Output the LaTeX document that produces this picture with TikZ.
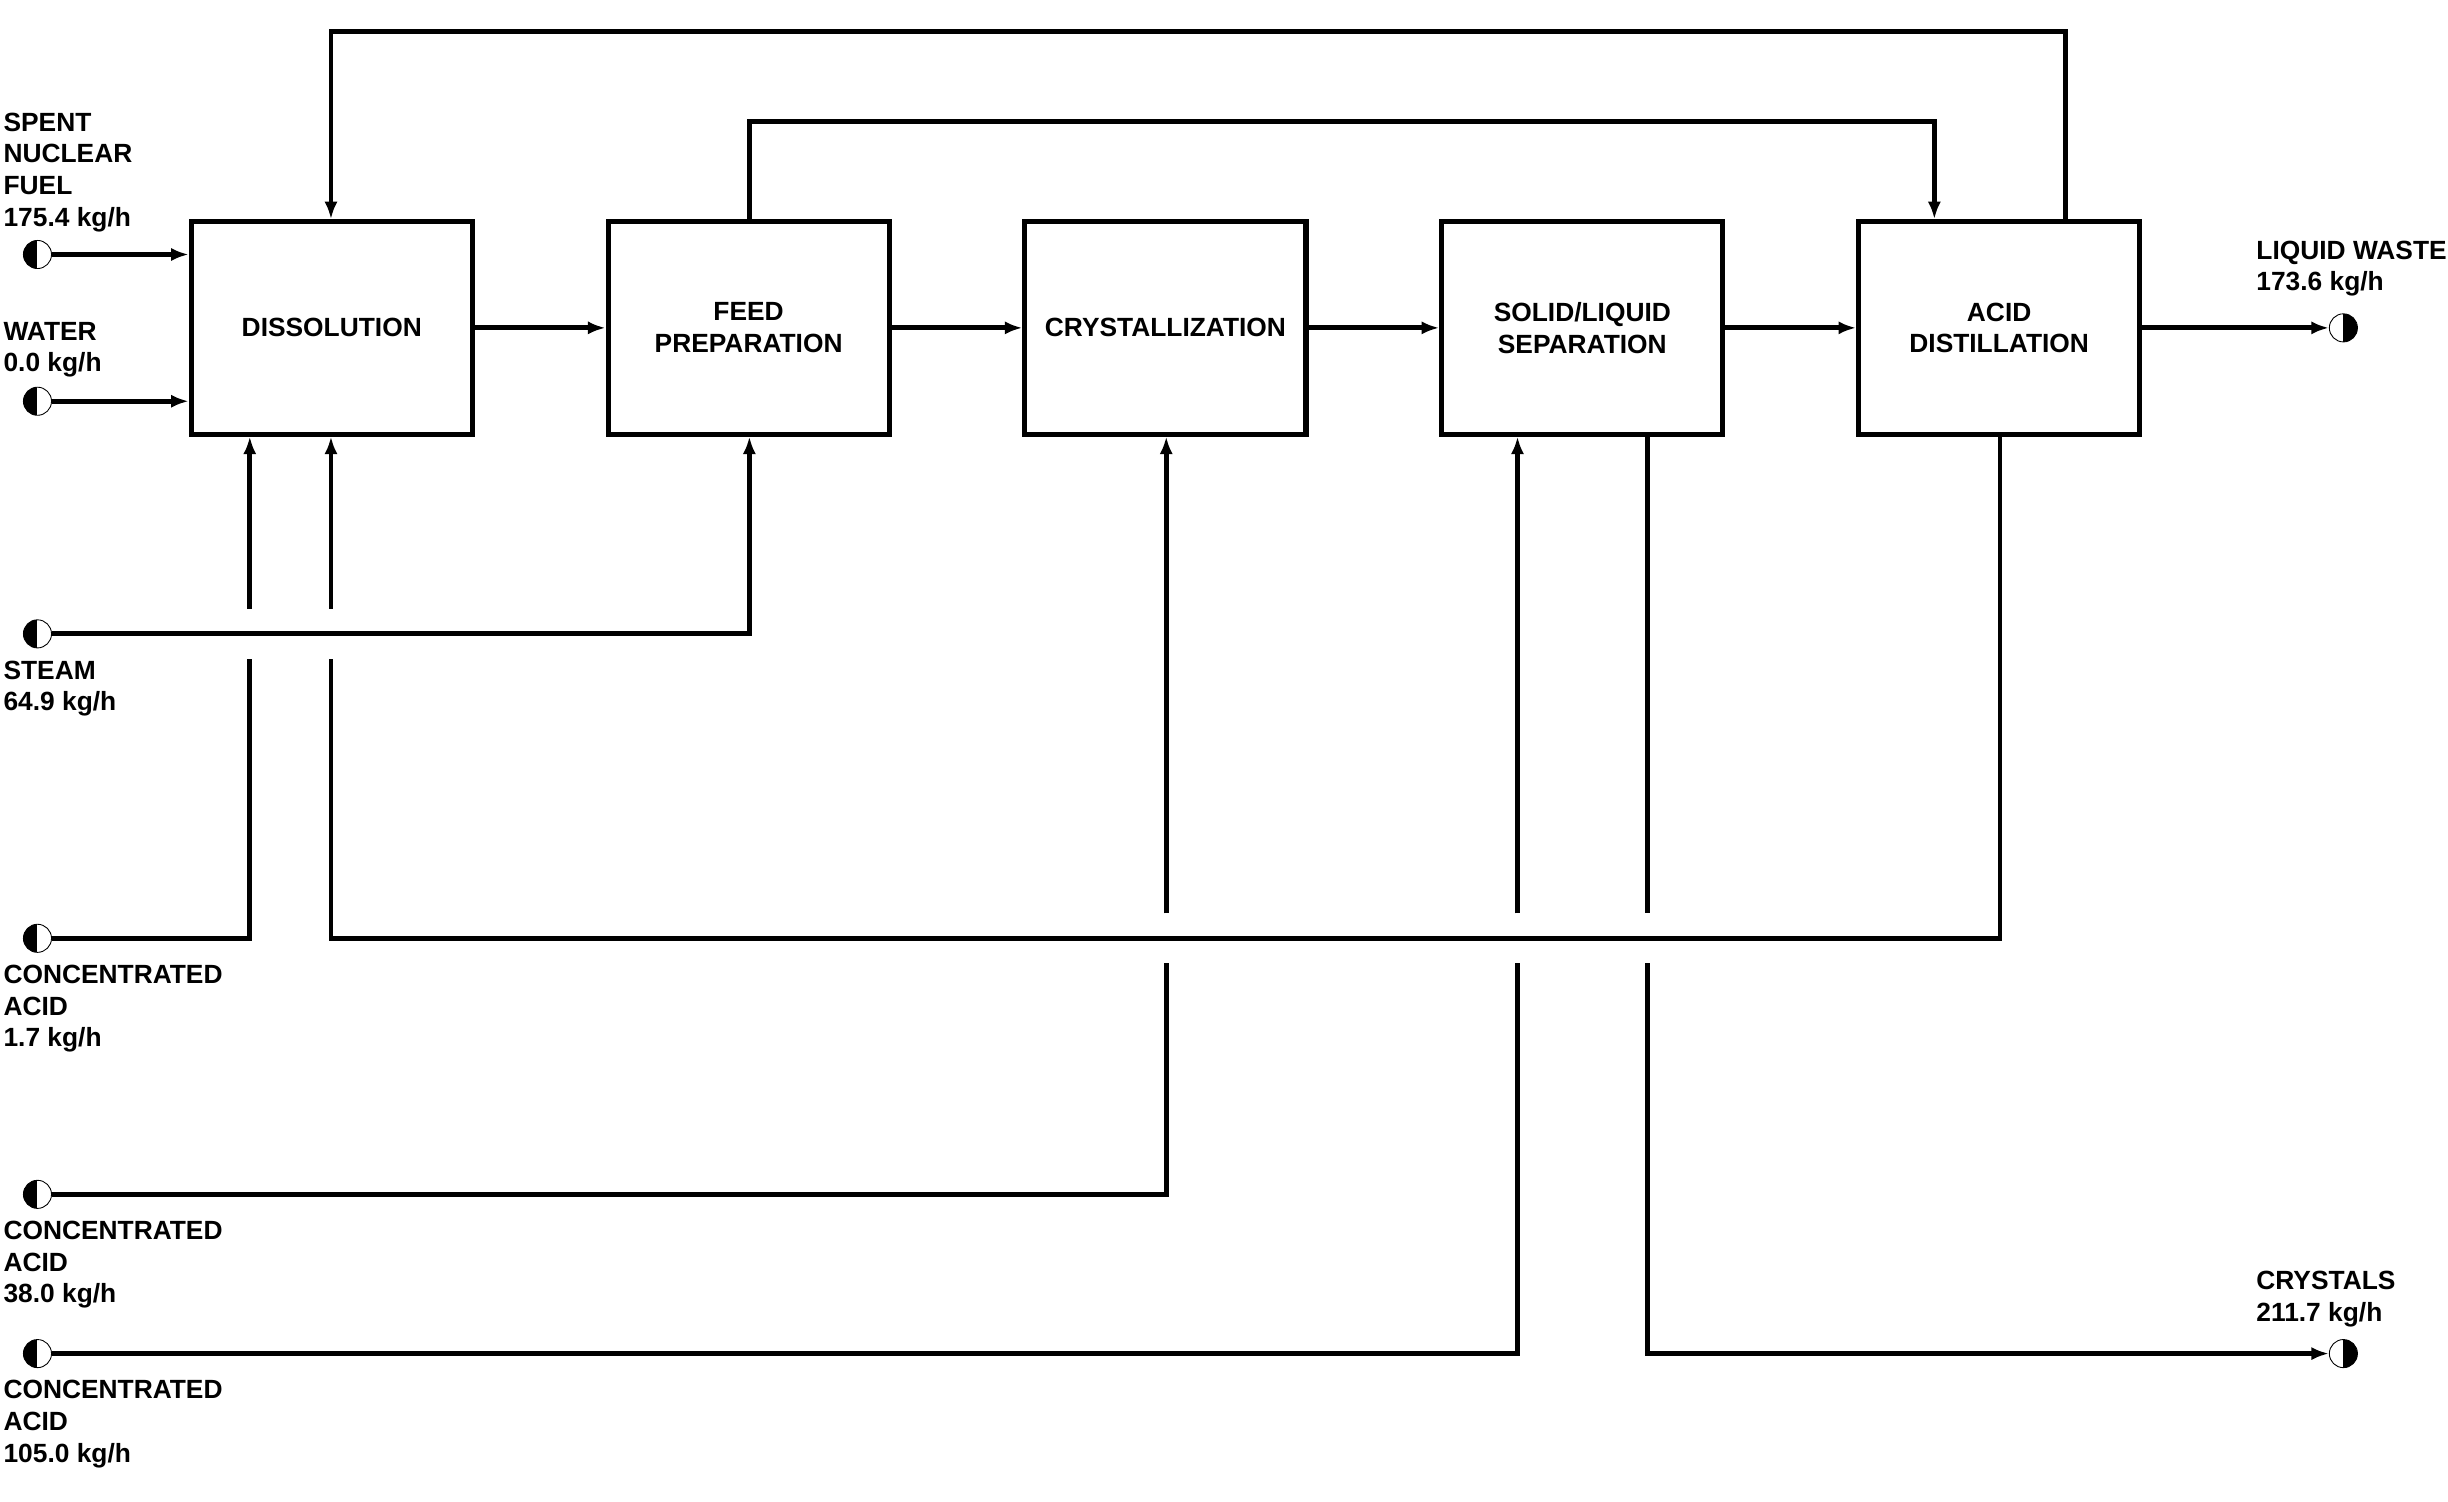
\documentclass[tikz,border=0pt]{standalone}
\usepackage{fontspec}
\setmainfont{Liberation Sans}
\usetikzlibrary{arrows.meta}
\begin{document}
\begin{tikzpicture}[
      x=0.025cm, y=-0.025cm,
      every node/.style={font=\fontsize{12}{14.4}\selectfont\bfseries},
      unit box/.style={draw, line width=2.3pt, minimum width=4.5cm, minimum height=3.4cm, align=center, inner sep=0pt},
      src/.style={circle, draw, thin, minimum size=0.45cm, inner sep=0pt,
        path picture={\fill (path picture bounding box.south west) rectangle (path picture bounding box.north);}},
      sink/.style={circle, draw, thin, minimum size=0.45cm, inner sep=0pt,
        path picture={\fill (path picture bounding box.south east) rectangle (path picture bounding box.north);}},
      stream label/.style={anchor=north west, align=left, inner sep=0pt},
      flow/.style={line width=2.2pt, -{Latex[length=8pt,width=6pt]}},
      line/.style={line width=2.2pt}
    ]
    \useasboundingbox (0,0) rectangle (1568,962);

    % Process units
    \node[unit box] (diss)  at (212.5,210) {DISSOLUTION};
    \node[unit box] (feed)  at (479.5,210) {FEED\\PREPARATION};
    \node[unit box] (cryst) at (746.5,210) {CRYSTALLIZATION};
    \node[unit box] (sep)   at (1013.5,210) {SOLID/LIQUID\\SEPARATION};
    \node[unit box] (dist)  at (1280.5,210) {ACID\\DISTILLATION};

    % Feed and product streams
    \node[src] (fuel)   at (24,163) {};
    \node[src] (water)  at (24,257) {};
    \node[src] (steam)  at (24,406) {};
    \node[src] (acidA)  at (24,601) {};
    \node[src] (acidB)  at (24,765) {};
    \node[src] (acidC)  at (24,867) {};
    \node[sink] (waste) at (1501,210) {};
    \node[sink] (cryo)  at (1501,867) {};

    % Stream labels
    \node[stream label] at (2,72)   {SPENT\\NUCLEAR\\FUEL\\175.4 kg/h};
    \node[stream label] at (2,206)  {WATER\\0.0 kg/h};
    \node[stream label] at (2,423)  {STEAM\\64.9 kg/h};
    \node[stream label] at (2,618)  {CONCENTRATED\\ACID\\1.7 kg/h};
    \node[stream label] at (2,782)  {CONCENTRATED\\ACID\\38.0 kg/h};
    \node[stream label] at (2,884)  {CONCENTRATED\\ACID\\105.0 kg/h};
    \node[stream label] at (1445,154) {LIQUID WASTE\\173.6 kg/h};
    \node[stream label] at (1445,814) {CRYSTALS\\211.7 kg/h};

    % Bend points
    \coordinate (topR)   at (1323,20);
    \coordinate (topL)   at (212,20);
    \coordinate (midL)   at (480,78);
    \coordinate (midR)   at (1239,78);
    \coordinate (stJ)    at (480,406);
    \coordinate (aJ)     at (160,601);
    \coordinate (rcR)    at (1281,601);
    \coordinate (rcL)    at (212,601);
    \coordinate (bJ)     at (747,765);
    \coordinate (cJ)     at (972,867);
    \coordinate (crJ)    at (1055,867);

    % Main line
    \draw[flow] (fuel) -- (fuel -| diss.west);
    \draw[flow] (water) -- (water -| diss.west);
    \draw[flow] (diss) -- (feed);
    \draw[flow] (feed) -- (cryst);
    \draw[flow] (cryst) -- (sep);
    \draw[flow] (sep) -- (dist);
    \draw[flow] (dist) -- (waste);

    % Recycles over the top
    \draw[flow] (topR |- dist.north) -- (topR) -- (topL) -- (topL |- diss.north);
    \draw[flow] (midL |- feed.north) -- (midL) -- (midR) -- (midR |- dist.north);

    % Steam
    \draw[flow] (steam) -- (stJ) -- (stJ |- feed.south);

    % Acid to dissolution (broken where steam crosses)
    \draw[line] (acidA) -- (aJ) -- (160,422);
    \draw[flow] (160,390) -- (aJ |- diss.south);

    % Acid recovered from distillation
    \draw[line] (rcR |- dist.south) -- (rcR) -- (rcL) -- (212,422);
    \draw[flow] (212,390) -- (rcL |- diss.south);

    % Acid to crystallization and separation
    \draw[line] (acidB) -- (bJ) -- (747,617);
    \draw[flow] (747,585) -- (bJ |- cryst.south);
    \draw[line] (acidC) -- (cJ) -- (972,617);
    \draw[flow] (972,585) -- (cJ |- sep.south);

    % Crystals out
    \draw[line] (crJ |- sep.south) -- (1055,585);
    \draw[flow] (1055,617) -- (crJ) -- (cryo);
  \end{tikzpicture}
\end{document}
